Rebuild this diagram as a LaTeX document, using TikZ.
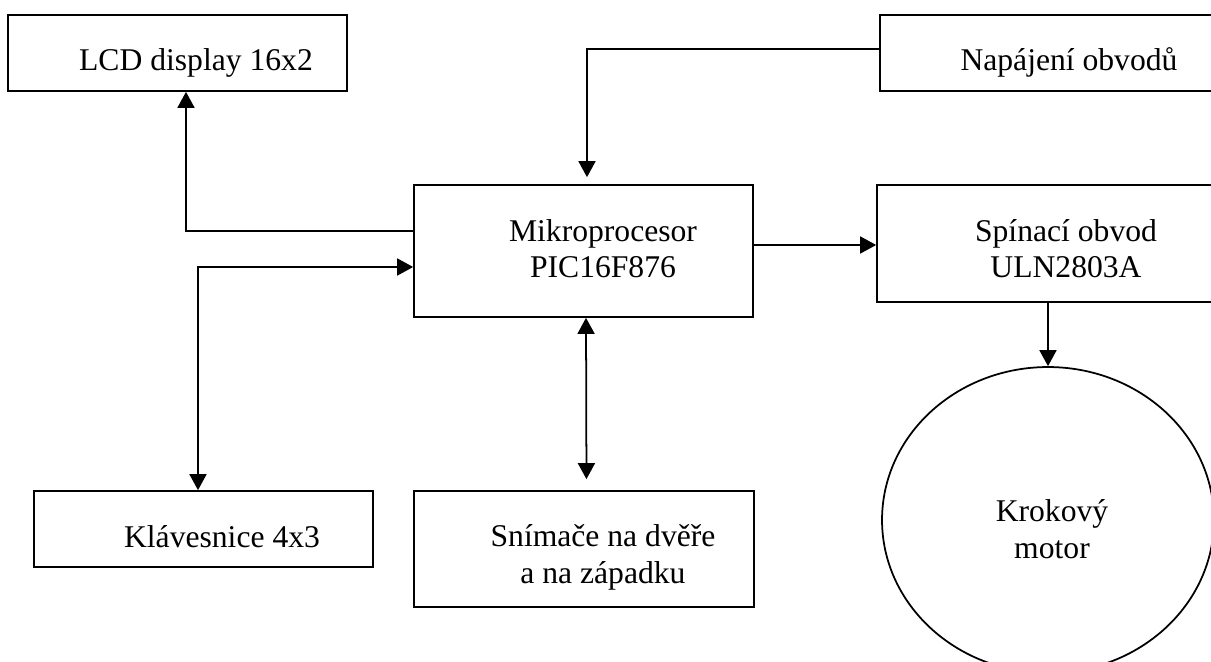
\documentclass[tikz,border=0pt]{standalone}
\usepackage{fontspec}
\setmainfont{Liberation Serif}
\usetikzlibrary{arrows.meta,shapes.geometric}

\tikzset{
  blk/.style={draw, line width=1pt, rectangle, inner sep=0pt},
  motorshape/.style={draw, line width=1pt, ellipse, inner sep=0pt},
  lbl/.style={font=\fontsize{18}{20.5}\selectfont, align=center, anchor=base, inner sep=0pt},
  tip/.style={Triangle[length=0.32cm,width=0.34cm]},
  conn/.style={line width=1pt, -{Triangle[length=0.32cm,width=0.34cm]}},
  bconn/.style={line width=1pt, {Triangle[length=0.32cm,width=0.34cm]}-{Triangle[length=0.32cm,width=0.34cm]}}
}

\begin{document}
\begin{tikzpicture}[x=0.02cm, y=-0.02cm]
  \useasboundingbox (0,0) rectangle (1211,662);
  \clip (0,0) rectangle (1211,662);
  \fill[white] (0,0) rectangle (1211,662);

  % blocks
  \node[blk, minimum width=6.78cm, minimum height=1.52cm] (lcd)  at (177.5,53) {};
  \node[blk, minimum width=7.2cm,  minimum height=1.52cm] (pwr)  at (1060,53) {};
  \node[blk, minimum width=6.78cm, minimum height=2.64cm] (mcu)  at (583.5,251) {};
  \node[blk, minimum width=7.26cm, minimum height=2.34cm] (sw)   at (1058.5,243.5) {};
  \node[blk, minimum width=6.78cm, minimum height=1.52cm] (kbd)  at (203.5,529) {};
  \node[blk, minimum width=6.8cm,  minimum height=2.32cm] (sens) at (584,549) {};
  \node[motorshape, minimum width=6.64cm, minimum height=6.12cm] (motor) at (1048,520) {};

  % labels
  \node[lbl] (lcdT)   at (196,71)   {LCD display 16x2};
  \node[lbl] (pwrT)   at (1069,71)  {Napájení obvodů};
  \node[lbl] (mcuT)   at (603,278)  {Mikroprocesor\\PIC16F876};
  \node[lbl] (swT)    at (1066,278) {Spínací obvod\\ULN2803A};
  \node[lbl] (kbdT)   at (222,547)  {Klávesnice 4x3};
  \node[lbl] (sensT)  at (603,583)  {Snímače na dvěře\\a na západku};
  \node[lbl] (motorT) at (1052,558) {Krokový\\motor};

  % connections
  \draw[conn, shorten >=0.14cm] ([yshift=0.08cm]pwr.west) -| ([xshift=0.07cm]mcu.north);
  \draw[conn] ([yshift=0.4cm]mcu.west) -| ([xshift=0.17cm]lcd.south);
  \draw[bconn] ([yshift=-0.32cm]mcu.west) -| ([xshift=-0.11cm]kbd.north);
  \draw[bconn, shorten >=0.22cm] ([xshift=0.05cm]mcu.south) -- ([xshift=0.05cm]sens.north);
  \draw[conn] ([yshift=0.12cm]mcu.east) -- ([yshift=0.12cm]mcu.east -| sw.west);
  \draw[conn] (sw.south -| motor.north) -- (motor.north);
\end{tikzpicture}
\end{document}
